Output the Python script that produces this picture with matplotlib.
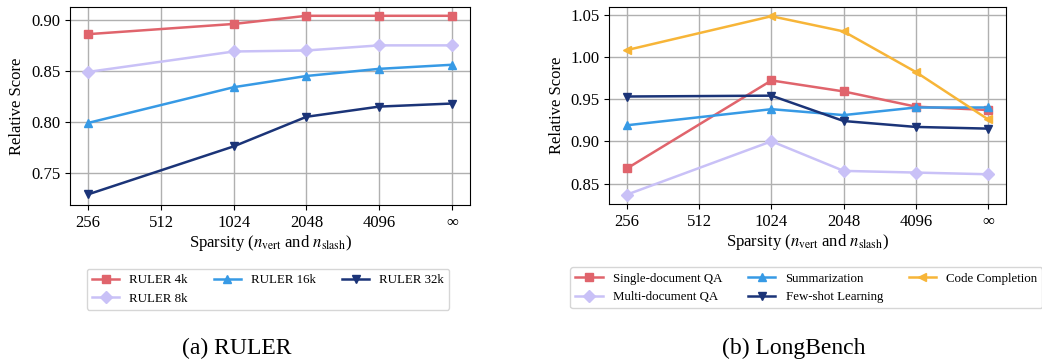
import matplotlib.pyplot as plt

plt.rcParams['font.family'] = ['Liberation Serif', 'DejaVu Serif']
plt.rcParams['mathtext.fontset'] = 'stix'

# Sparsity settings along the x axis (512 is shown but has no measurement)
tick_labels = ['256', '512', '1024', '2048', '4096', '∞']
x_pos = [0, 2, 3, 4, 5]

# RULER relative scores
ruler_4k = [0.886, 0.896, 0.904, 0.904, 0.904]
ruler_8k = [0.849, 0.869, 0.870, 0.875, 0.875]
ruler_16k = [0.799, 0.834, 0.845, 0.852, 0.856]
ruler_32k = [0.729, 0.776, 0.805, 0.815, 0.818]

# LongBench relative scores
single_qa = [0.868, 0.972, 0.959, 0.941, 0.937]
multi_qa = [0.837, 0.900, 0.865, 0.863, 0.861]
summarization = [0.919, 0.938, 0.931, 0.940, 0.940]
few_shot = [0.953, 0.954, 0.924, 0.917, 0.915]
code_completion = [1.008, 1.048, 1.030, 0.982, 0.926]

red = '#e0646c'
lavender = '#c9c1f7'
blue = '#379ae5'
navy = '#1b3478'
orange = '#f7b538'

fig = plt.figure(figsize=(10.42, 3.64), dpi=100)
ax1 = fig.add_axes([0.0672, 0.437, 0.384, 0.544])
ax2 = fig.add_axes([0.5845, 0.440, 0.381, 0.541])

line_kw = dict(linewidth=1.8, markersize=6)

ax1.plot(x_pos, ruler_4k, marker='s', color=red, label='RULER 4k', **line_kw)
ax1.plot(x_pos, ruler_8k, marker='D', color=lavender, label='RULER 8k', **line_kw)
ax1.plot(x_pos, ruler_16k, marker='^', color=blue, label='RULER 16k', **line_kw)
ax1.plot(x_pos, ruler_32k, marker='v', color=navy, label='RULER 32k', **line_kw)
ax1.set_ylim(0.7186, 0.9127)
ax1.set_yticks([0.75, 0.80, 0.85, 0.90])

ax2.plot(x_pos, single_qa, marker='s', color=red, label='Single-document QA', **line_kw)
ax2.plot(x_pos, multi_qa, marker='D', color=lavender, label='Multi-document QA', **line_kw)
ax2.plot(x_pos, summarization, marker='^', color=blue, label='Summarization', **line_kw)
ax2.plot(x_pos, few_shot, marker='v', color=navy, label='Few-shot Learning', **line_kw)
ax2.plot(x_pos, code_completion, marker='<', color=orange, label='Code Completion', **line_kw)
ax2.set_ylim(0.826, 1.059)
ax2.set_yticks([0.85, 0.90, 0.95, 1.00, 1.05])

for ax in (ax1, ax2):
    ax.set_xlim(-0.25, 5.25)
    ax.set_xticks(range(6))
    ax.set_xticklabels(tick_labels)
    ax.yaxis.set_major_formatter(plt.FormatStrFormatter('%.2f'))
    ax.tick_params(labelsize=12)
    ax.grid(True, color='#b0b0b0', linewidth=1)
    ax.set_axisbelow(True)
    ax.set_xlabel(r'Sparsity ($n_{\mathrm{vert}}$ and $n_{\mathrm{slash}}$)', fontsize=12, labelpad=2)
    ax.set_ylabel('Relative Score', fontsize=12)

leg_kw = dict(loc='upper center', ncol=3, fontsize=9.3, handlelength=2.1,
              handletextpad=0.8, fancybox=True, edgecolor='#cccccc')
ax1.legend(bbox_to_anchor=(0.495, -0.29), columnspacing=2.0, **leg_kw)
ax2.legend(bbox_to_anchor=(0.497, -0.29), columnspacing=2.0, **leg_kw)

fig.text(0.2275, 0.028, '(a) RULER', ha='center', fontsize=17)
fig.text(0.762, 0.028, '(b) LongBench', ha='center', fontsize=17)

fig.savefig('out.png', dpi=100)
